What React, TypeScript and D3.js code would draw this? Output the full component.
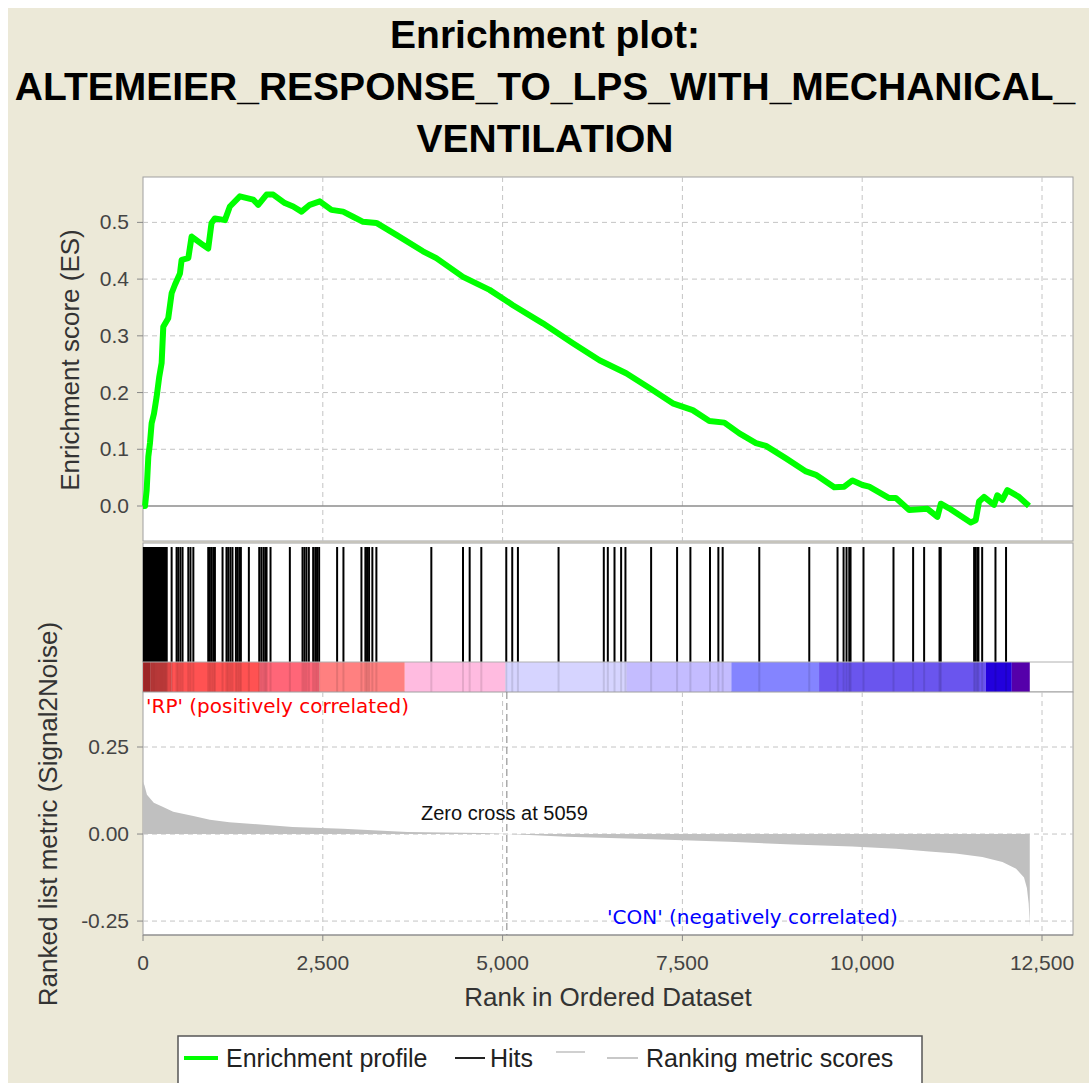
import React from 'react';
import * as d3 from 'd3';

// Running enrichment score (rank, ES)
const esRanks = [0, 28, 51, 74, 97, 120, 153, 190, 226, 259, 282, 351, 398, 444, 514, 537, 630, 676, 837, 907, 953, 1000, 1139, 1208, 1347, 1532, 1602, 1718, 1810, 1972, 2088, 2204, 2319, 2458, 2620, 2782, 2921, 3060, 3245, 3523, 3893, 4078, 4449, 4819, 5144, 5560, 5977, 6347, 6718, 7042, 7366, 7643, 7875, 8083, 8292, 8523, 8662, 8940, 9218, 9356, 9611, 9750, 9865, 10004, 10097, 10375, 10468, 10653, 10907, 11046, 11093, 11208, 11509, 11578, 11625, 11694, 11833, 11879, 11949, 12018, 12180, 12319];
const esValues = [0, 0.0, 0.028, 0.087, 0.111, 0.146, 0.163, 0.193, 0.228, 0.252, 0.316, 0.331, 0.375, 0.39, 0.41, 0.434, 0.437, 0.475, 0.46, 0.454, 0.499, 0.507, 0.504, 0.528, 0.546, 0.54, 0.531, 0.549, 0.549, 0.534, 0.528, 0.519, 0.531, 0.537, 0.522, 0.519, 0.51, 0.501, 0.499, 0.478, 0.449, 0.437, 0.404, 0.381, 0.354, 0.322, 0.287, 0.257, 0.234, 0.208, 0.181, 0.169, 0.15, 0.147, 0.128, 0.111, 0.106, 0.084, 0.061, 0.055, 0.033, 0.034, 0.045, 0.037, 0.034, 0.014, 0.014, -0.007, -0.005, -0.019, 0.004, -0.004, -0.029, -0.025, 0.008, 0.016, 0.002, 0.019, 0.011, 0.028, 0.016, 0.0];

// Positions of the gene set members in the ranked list
const hitRanks = [12, 25, 37, 50, 62, 75, 88, 100, 113, 126, 140, 153, 166, 180, 195, 210, 225, 240, 255, 270, 285, 300, 315, 330,
  398, 467, 490, 520, 550, 630, 660, 700, 907, 930, 955, 980, 1000, 1106, 1161, 1185, 1215, 1244, 1292, 1315, 1340, 1361,
  1472, 1616, 1645, 1675, 1700, 1718, 1773, 2042, 2218, 2245, 2273, 2306, 2366, 2395, 2420, 2449, 2699, 2787, 3037, 3092,
  3115, 3143, 3189, 3245, 4009, 4449, 4542, 4704, 5051, 5134, 5213, 5778, 6407, 6463, 6556, 6648, 6708, 7065, 7426, 7611,
  7884, 8000, 8060, 8569, 9264, 9657, 9741, 9782, 9820, 9838, 10018, 10435, 10708, 10861, 11075, 11092, 11556, 11575,
  11600, 11616, 11668, 11853, 12000];

// Ranked list metric (rank, signal2noise)
const metricRanks = [0, 20, 55, 150, 280, 420, 700, 930, 1200, 1530, 2080, 2780, 3680, 4720, 5059, 5890, 7080, 8150, 9030, 9860, 10470, 10930, 11300, 11670, 11950, 12140, 12250, 12290, 12315, 12330];
const metricValues = [0.15, 0.14, 0.113, 0.09, 0.078, 0.064, 0.052, 0.041, 0.034, 0.029, 0.02, 0.015, 0.006, 0.003, 0, -0.008, -0.015, -0.022, -0.03, -0.036, -0.042, -0.05, -0.056, -0.066, -0.08, -0.1, -0.125, -0.155, -0.2, -0.265];

// Heat bar bands (start rank, colour)
const bandStarts = [0, 100, 400, 1625, 2450, 3640, 5040, 6720, 8180, 9400, 11720, 12080];
const bandColors = ['#c83232', '#e24646', '#ff5252', '#ff6678', '#ff8080', '#ffbbe0', '#d6d4ff', '#c4bcff', '#8484ff', '#6a55ee', '#2200dd', '#5500aa'];
const listEnd = 12330;
const zeroCross = 5059;

const xTicks = [0, 2500, 5000, 7500, 10000, 12500];
const esTicks = [0.0, 0.1, 0.2, 0.3, 0.4, 0.5];
const metricTicks = [0.25, 0.0, -0.25];

const titleLines = ['Enrichment plot:', 'ALTEMEIER_RESPONSE_TO_LPS_WITH_MECHANICAL_', 'VENTILATION'];

const L = 143, R = 1073;
const esTop = 177, esBottom = 541;
const hitTop = 543, barTop = 662, barBottom = 692;
const mBottom = 935;
const sans = 'Liberation Sans, Arial, sans-serif';
const grid = '#c4c4c4';

export default function App() {
  const x = d3.scaleLinear().domain([0, 12931]).range([L, R]);
  const yEs = d3.scaleLinear().domain([-0.0617, 0.58]).range([esBottom, esTop]);
  const yM = d3.scaleLinear().domain([-0.29, 0.408]).range([mBottom, barBottom]);

  const esPts = esRanks.map((r, i) => [r, esValues[i]] as [number, number]);
  const esLine = d3.line<[number, number]>().x(d => x(d[0])).y(d => yEs(d[1]));
  const mPts = metricRanks.map((r, i) => [r, metricValues[i]] as [number, number]);
  const mArea = d3.area<[number, number]>().x(d => x(d[0])).y0(yM(0)).y1(d => yM(d[1]));

  const fmt = d3.format(',');

  return (
    <svg width={1089} height={1083} style={{ position: 'absolute', left: 0, top: 0 }}>
      <rect x={0} y={0} width={1089} height={1083} fill="#ffffff" />
      <rect x={8} y={8} width={1081} height={1075} fill="#ece9d8" />

      {titleLines.map((t, i) => (
        <text key={i} x={545} y={48 + i * 52} textAnchor="middle" fontFamily={sans} fontWeight="bold" fontSize={39} fill="#000">{t}</text>
      ))}

      {/* ES panel */}
      <rect x={L} y={esTop} width={R - L} height={esBottom - esTop} fill="#fff" stroke="#a0a0a0" />
      {esTicks.filter(t => t !== 0).map(t => (
        <line key={t} x1={L} x2={R} y1={yEs(t)} y2={yEs(t)} stroke={grid} strokeDasharray="5,4" />
      ))}
      {xTicks.filter(t => t > 0).map(t => (
        <line key={t} x1={x(t)} x2={x(t)} y1={esTop} y2={esBottom} stroke={grid} strokeDasharray="5,4" />
      ))}
      <line x1={L} x2={R} y1={yEs(0)} y2={yEs(0)} stroke="#8c8c8c" strokeWidth={1.5} />
      <path d={esLine(esPts) || ''} fill="none" stroke="#00ff00" strokeWidth={6} strokeLinejoin="round" />
      {esTicks.map(t => (
        <g key={t}>
          <line x1={L - 6} x2={L} y1={yEs(t)} y2={yEs(t)} stroke="#888" />
          <text x={129} y={yEs(t) + 7} textAnchor="end" fontFamily={sans} fontSize={21} fill="#444">{t.toFixed(1)}</text>
        </g>
      ))}
      <text transform={`translate(79,360) rotate(-90)`} textAnchor="middle" fontFamily={sans} fontSize={26} fill="#333">Enrichment score (ES)</text>

      {/* Hits + heat bar */}
      <rect x={L} y={hitTop} width={R - L} height={barBottom - hitTop} fill="#fff" stroke="#a0a0a0" />
      {bandStarts.map((s, i) => {
        const e = i < bandStarts.length - 1 ? bandStarts[i + 1] : listEnd;
        return <rect key={s} x={x(s)} y={barTop} width={x(e) - x(s)} height={barBottom - barTop} fill={bandColors[i]} />;
      })}
      {hitRanks.map((r, i) => (
        <g key={i}>
          <line x1={x(r)} x2={x(r)} y1={hitTop + 4} y2={barTop} stroke="#000" strokeWidth={2} />
          <line x1={x(r)} x2={x(r)} y1={barTop} y2={barBottom} stroke="#000" strokeWidth={2} opacity={0.1} />
        </g>
      ))}
      <line x1={L} x2={R} y1={barTop} y2={barTop} stroke="#b0b0b0" />

      {/* Ranked metric panel */}
      <rect x={L} y={barBottom} width={R - L} height={mBottom - barBottom} fill="#fff" stroke="#a0a0a0" />
      {metricTicks.map(t => (
        <line key={t} x1={L} x2={R} y1={yM(t)} y2={yM(t)} stroke={grid} strokeDasharray="5,4" />
      ))}
      {xTicks.filter(t => t > 0).map(t => (
        <line key={t} x1={x(t)} x2={x(t)} y1={barBottom} y2={mBottom} stroke={grid} strokeDasharray="5,4" />
      ))}
      <path d={mArea(mPts) || ''} fill="#c0c0c0" />
      <line x1={x(zeroCross)} x2={x(zeroCross)} y1={barBottom} y2={mBottom} stroke="#808080" strokeDasharray="7,4" />
      <text x={421} y={820} fontFamily={sans} fontSize={20} fill="#111">Zero cross at {zeroCross}</text>
      <text x={146} y={713} fontFamily="DejaVu Sans, sans-serif" fontSize={20} fill="#ff0000">'RP' (positively correlated)</text>
      <text x={607} y={924} fontFamily="DejaVu Sans, sans-serif" fontSize={20} fill="#0000ff">'CON' (negatively correlated)</text>
      {metricTicks.map(t => (
        <g key={t}>
          <line x1={L - 6} x2={L} y1={yM(t)} y2={yM(t)} stroke="#888" />
          <text x={129} y={yM(t) + 7} textAnchor="end" fontFamily={sans} fontSize={21} fill="#444">{t.toFixed(2)}</text>
        </g>
      ))}
      <text transform={`translate(57,814) rotate(-90)`} textAnchor="middle" fontFamily={sans} fontSize={26} fill="#333">Ranked list metric (Signal2Noise)</text>

      {/* X axis */}
      <line x1={L} x2={R} y1={mBottom} y2={mBottom} stroke="#888" />
      {xTicks.map(t => (
        <g key={t}>
          <line x1={x(t)} x2={x(t)} y1={mBottom} y2={mBottom + 6} stroke="#888" />
          <text x={x(t)} y={970} textAnchor="middle" fontFamily={sans} fontSize={21} fill="#444">{fmt(t)}</text>
        </g>
      ))}
      <text x={608} y={1006} textAnchor="middle" fontFamily={sans} fontSize={26} fill="#333">Rank in Ordered Dataset</text>

      {/* Legend */}
      <rect x={178} y={1036} width={744} height={60} fill="#fff" stroke="#555" strokeWidth={1.5} />
      <line x1={184} x2={218} y1={1058} y2={1058} stroke="#00ff00" strokeWidth={4} />
      <text x={226} y={1067} fontFamily={sans} fontSize={25} fill="#222">Enrichment profile</text>
      <line x1={455} x2={485} y1={1058} y2={1058} stroke="#222" strokeWidth={2} />
      <text x={490} y={1067} fontFamily={sans} fontSize={25} fill="#222">Hits</text>
      <line x1={556} x2={585} y1={1052} y2={1052} stroke="#d0d0d0" strokeWidth={2} />
      <line x1={607} x2={638} y1={1058} y2={1058} stroke="#c8c8c8" strokeWidth={2} />
      <text x={646} y={1067} fontFamily={sans} fontSize={25} fill="#222">Ranking metric scores</text>
    </svg>
  );
}
